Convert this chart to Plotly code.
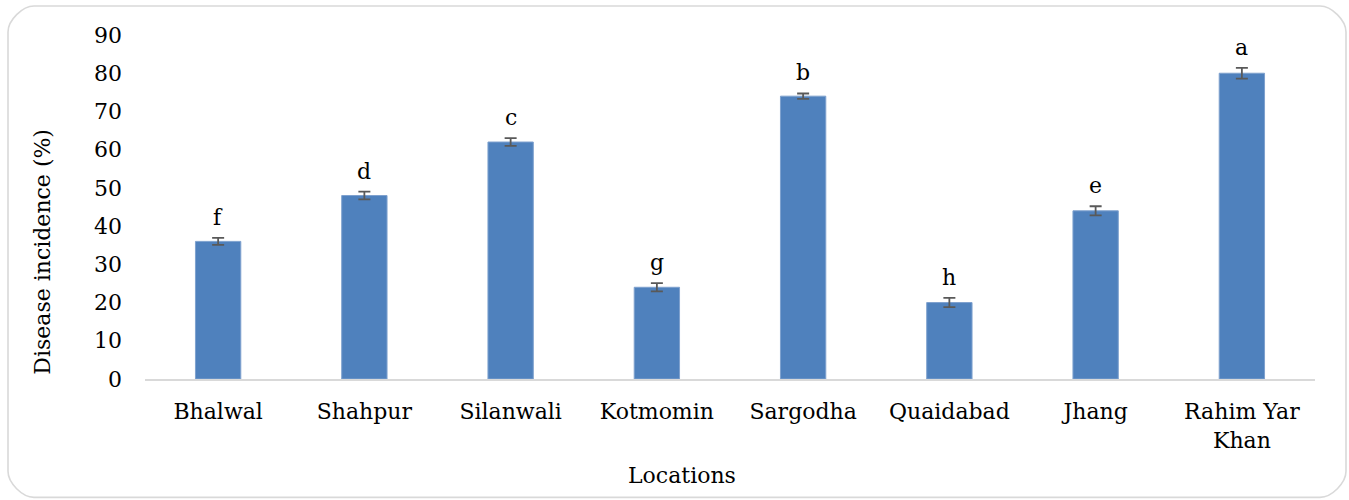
import plotly.graph_objects as go

# Disease incidence by location, with standard errors and significance letters
locations = ["Bhalwal", "Shahpur", "Silanwali", "Kotmomin", "Sargodha",
             "Quaidabad", "Jhang", "Rahim Yar<br>Khan"]
incidence = [36, 48, 62, 24, 74, 20, 44, 80]
std_err = [0.9, 1.0, 1.0, 1.1, 0.7, 1.2, 1.2, 1.4]
letters = ["f", "d", "c", "g", "b", "h", "e", "a"]
y_ticks = [0, 10, 20, 30, 40, 50, 60, 70, 80, 90]

FONT = "DejaVu Serif"
W, H = 1349, 500
ML, MR, MT, MB = 145, 34, 35, 120.5

fig = go.Figure()
fig.add_trace(go.Bar(
    x=locations, y=incidence,
    marker=dict(color="#4F81BD", line=dict(color="#7EA1CE", width=1)),
    error_y=dict(type="data", array=std_err, visible=True,
                 color="#595959", thickness=1.8, width=6),
    width=0.31,
))

# significance letters above each error bar
for loc, v, e, t in zip(locations, incidence, std_err, letters):
    fig.add_annotation(x=loc, y=v + e, text=t, showarrow=False,
                       yanchor="bottom", yshift=6,
                       font=dict(family=FONT, size=22, color="#000000"))

pw, ph = W - ML - MR, H - MB - MT
def px(x):
    return (x - ML) / pw
def py(y):
    return (H - MB - y) / ph

# axis titles, centred on the whole chart area
fig.add_annotation(xref="paper", yref="paper", x=px(43), y=py(252),
                   text="Disease incidence (%)", textangle=-90, showarrow=False,
                   xanchor="center", yanchor="middle",
                   font=dict(family=FONT, size=22, color="#000000"))
fig.add_annotation(xref="paper", yref="paper", x=px(682), y=py(476),
                   text="Locations", showarrow=False,
                   xanchor="center", yanchor="middle",
                   font=dict(family=FONT, size=22, color="#000000"))

# rounded outer frame, built in pixels then mapped to paper units
x0, x1, y0, y1, r = 8, 1346, 6, 498, 26
k = 0.4477 * r
pts = [
    f"M {px(x0 + r)},{py(y0)}",
    f"L {px(x1 - r)},{py(y0)}",
    f"C {px(x1 - r + k)},{py(y0)} {px(x1)},{py(y0 + r - k)} {px(x1)},{py(y0 + r)}",
    f"L {px(x1)},{py(y1 - r)}",
    f"C {px(x1)},{py(y1 - r + k)} {px(x1 - r + k)},{py(y1)} {px(x1 - r)},{py(y1)}",
    f"L {px(x0 + r)},{py(y1)}",
    f"C {px(x0 + r - k)},{py(y1)} {px(x0)},{py(y1 - r + k)} {px(x0)},{py(y1 - r)}",
    f"L {px(x0)},{py(y0 + r)}",
    f"C {px(x0)},{py(y0 + r - k)} {px(x0 + r - k)},{py(y0)} {px(x0 + r)},{py(y0)}",
    "Z",
]
fig.add_shape(type="path", xref="paper", yref="paper", path=" ".join(pts),
              line=dict(color="#D9D9D9", width=1.6), layer="below")

fig.update_layout(
    width=W, height=H,
    margin=dict(l=ML, r=MR, t=MT, b=MB, pad=0),
    plot_bgcolor="white", paper_bgcolor="white",
    showlegend=False,
    font=dict(family=FONT, size=22, color="#000000"),
    xaxis=dict(
        showline=True, linecolor="#D9D9D9", linewidth=2,
        ticks="", ticklabelstandoff=12, showgrid=False,
        tickfont=dict(family=FONT, size=22, color="#000000"),
    ),
    yaxis=dict(
        range=[0, 90], tickvals=y_ticks, ticks="",
        showgrid=False, zeroline=False, showline=False,
        ticklabelstandoff=22,
        tickfont=dict(family=FONT, size=22, color="#000000"),
    ),
)

fig.write_html("out.html")
